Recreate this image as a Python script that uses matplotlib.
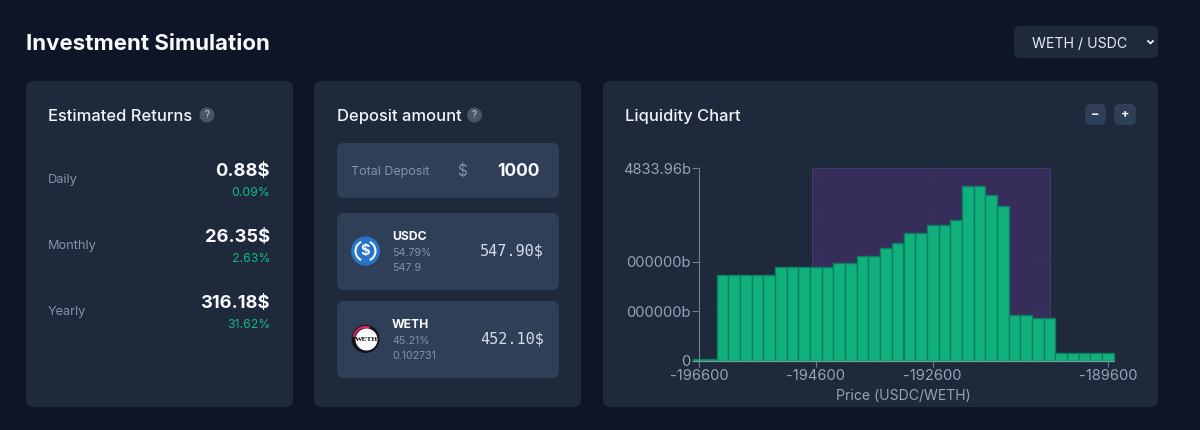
import matplotlib
matplotlib.use("Agg")
import matplotlib.pyplot as plt
from matplotlib.patches import FancyBboxPatch, Circle, Rectangle, Arc

BG = "#0e1526"
CARD = "#1e293b"
INNER = "#303f58"
GREEN = "#10b17d"
GREEN_TEXT = "#12b981"
MUTED = "#8393aa"
WHITE = "#f8fafc"
AXIS = "#6f7d90"
TICK_TEXT = "#94a3b8"

plt.rcParams["font.family"] = ["Inter", "DejaVu Sans"]

# returns panel
return_labels = ["Daily", "Monthly", "Yearly"]
return_values = ["0.88$", "26.35$", "316.18$"]
return_pcts = ["0.09%", "2.63%", "31.62%"]

# deposit panel
token_names = ["USDC", "WETH"]
token_pcts = ["54.79%", "45.21%"]
token_amounts = ["547.9", "0.102731"]
token_values = ["547.90$", "452.10$"]

# liquidity chart
bin_centers = [
    -196600, -196400, -196200, -196000, -195800, -195600, -195400, -195200, -195000,
    -194800, -194600, -194400, -194200, -194000, -193800, -193600, -193400, -193200,
    -193000, -192800, -192600, -192400, -192200, -192000, -191800, -191600, -191400,
    -191200, -191000, -190800, -190600, -190400, -190200, -190000, -189800, -189600,
]
liquidity = [
    50, 50, 2152, 2152, 2152, 2152, 2152, 2353, 2353, 2353,
    2353, 2353, 2462, 2462, 2638, 2638, 2831, 2965, 3199, 3216,
    3400, 3400, 3534, 4389, 4389, 4162, 3886, 1156, 1139, 1080,
    1080, 184, 184, 184, 184, 184,
]
x_ticks = [-196600, -194600, -192600, -189600]
y_ticks = [0, 1240, 2480, 4833.96]
y_tick_labels = ["0", "000000b", "000000b", "4833.96b"]
range_low, range_high = -194670, -190590
y_top = 4833.96

fig = plt.figure(figsize=(12, 4.3), dpi=100)
fig.patch.set_facecolor(BG)

# page layer in pixel coordinates
page = fig.add_axes([0, 0, 1, 1], zorder=0)
page.set_xlim(0, 1200)
page.set_ylim(430, 0)
page.axis("off")


def box(x0, y0, x1, y1, color, radius=8):
    page.add_patch(FancyBboxPatch(
        (x0 + radius, y0 + radius), x1 - x0 - 2 * radius, y1 - y0 - 2 * radius,
        boxstyle=f"round,pad={radius},rounding_size={radius}",
        linewidth=0, facecolor=color,
    ))


def label(x, y, s, size, color=WHITE, weight="normal", ha="left", **kw):
    page.text(x, y + 1.5, s, fontsize=size, color=color, fontweight=weight, ha=ha, va="center", **kw)


def help_badge(x, y):
    page.add_patch(Circle((x, y), 7.5, facecolor="#475569", linewidth=0))
    label(x, y - 1, "?", 7, "#cbd5e1", ha="center")


label(26, 42, "Investment Simulation", 16, weight="bold")

# pair selector
box(1014, 26, 1158, 58, CARD, 6)
label(1032, 42.5, "WETH / USDC", 10.2, "#e8edf4")
page.plot([1148, 1150.5, 1153], [41, 43.5, 41], color=WHITE, lw=1.2)

# cards
box(26, 81, 293, 407, CARD)
box(314, 81, 581, 407, CARD)
box(603, 81, 1158, 407, CARD)

# estimated returns
label(48, 115, "Estimated Returns", 11.9, "#f1f5f9", weight="medium")
help_badge(207, 115)
for i, row_y in enumerate([178, 244, 310]):
    label(48, row_y + 0.5, return_labels[i], 9.2, MUTED)
    label(270, row_y - 8, return_values[i], 13.2, weight="bold", ha="right")
    label(270, row_y + 14, return_pcts[i], 8.8, GREEN_TEXT, ha="right")

# deposit amount
label(337, 115, "Deposit amount", 11.9, "#f1f5f9", weight="medium")
help_badge(474.5, 115)
box(337, 143, 559, 198, INNER, 7)
label(351, 170, "Total Deposit", 9, MUTED)
label(462, 170, "$", 11, MUTED, ha="center")
label(540, 170, "1000", 12.6, weight="bold", ha="right")

for i, top in enumerate([213, 301]):
    box(337, top, 559, top + 77, INNER, 7)
    label(392, top + 22.5, token_names[i], 8.8, weight="bold")
    label(392, top + 38, token_pcts[i], 7.6, MUTED)
    label(392, top + 53.5, token_amounts[i], 7.6, MUTED)
    label(544, top + 37, token_values[i], 11, "#d5dde8", ha="right", family="DejaVu Sans Mono")

# token icons
cy = 251
page.add_patch(Circle((365.5, cy), 14.5, facecolor="#2775ca", linewidth=0))
page.add_patch(Arc((365.5, cy), 20, 20, theta1=115, theta2=245, color=WHITE, lw=1.5))
page.add_patch(Arc((365.5, cy), 20, 20, theta1=-65, theta2=65, color=WHITE, lw=1.5))
label(365.5, cy - 1.5, "$", 10.5, WHITE, weight="bold", ha="center")

cy = 339
page.add_patch(Circle((365.5, cy), 14, facecolor="#16121a", linewidth=0))
page.add_patch(Arc((365.5, cy), 24, 24, theta1=190, theta2=290, color="#e0245e", lw=1.6))
page.add_patch(Circle((366.5, cy + 0.5), 11, facecolor="#fafafa", linewidth=0))
label(366, cy - 1, "WETH", 5.4, "#111111", weight="bold", ha="center", family="Liberation Serif")

# zoom buttons
box(1085, 104, 1106, 125, INNER, 6)
box(1114, 104, 1136, 125, INNER, 6)
label(1095.5, 113.5, "\u2212", 9, WHITE, weight="bold", ha="center")
label(1125, 113.5, "+", 9, WHITE, weight="bold", ha="center")

label(625, 115, "Liquidity Chart", 11.9, "#f1f5f9", weight="medium")

# liquidity chart
ax = fig.add_axes([699 / 1200, 1 - 360.7 / 430, 409 / 1200, 192.4 / 430], zorder=1)
ax.patch.set_alpha(0)
ax.set_xlim(x_ticks[0], x_ticks[-1])
ax.set_ylim(0, y_top)

ax.add_patch(Rectangle(
    (range_low, 0), range_high - range_low, y_top,
    facecolor="#372d5a", edgecolor="#4a3f72", linewidth=0.6, zorder=1,
))
ax.grid(color="#334155", linestyle=(0, (1, 2)), linewidth=0.6, alpha=0.7, zorder=1.5)
ax.bar(
    bin_centers, liquidity, width=200, color=GREEN, edgecolor="#0c7f60",
    linewidth=1.0, clip_on=False, zorder=2,
)

ax.set_xticks(x_ticks)
ax.set_xticklabels([str(t) for t in x_ticks])
ax.set_yticks(y_ticks)
ax.set_yticklabels(y_tick_labels)
ax.tick_params(axis="x", colors=TICK_TEXT, labelsize=10.6, length=4, width=0.8, pad=2, color=AXIS)
ax.tick_params(axis="y", labelcolor=TICK_TEXT, labelsize=10.6, length=5, width=0.8, pad=1, color=AXIS)
ax.spines[["top", "right"]].set_visible(False)
ax.spines["left"].set_color(AXIS)
ax.spines["bottom"].set_color("#7f9a9a")
ax.spines["bottom"].set_bounds(-196700, -189500)
ax.set_xlabel("Price (USDC/WETH)", color=TICK_TEXT, fontsize=10.1, labelpad=4)

fig.savefig("out.png", dpi=100, facecolor=fig.get_facecolor())
